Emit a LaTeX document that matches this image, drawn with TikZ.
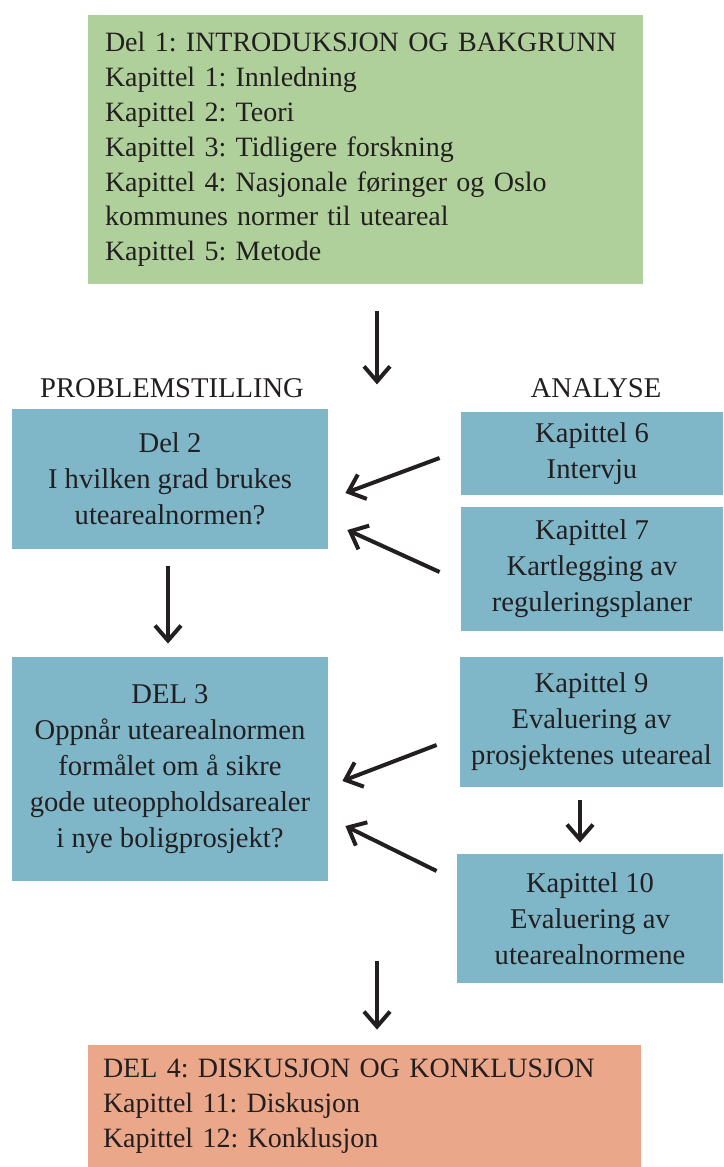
\documentclass[tikz,border=0pt]{standalone}
\usepackage{fontspec}
\setmainfont{Liberation Serif}
\usetikzlibrary{arrows.meta,calc}
\frenchspacing

\definecolor{introgreen}{HTML}{AFD09A}
\definecolor{partblue}{HTML}{7FB7C9}
\definecolor{endsalmon}{HTML}{EBA78A}
\definecolor{inktext}{HTML}{231F20}

\tikzset{
  partbox/.style={fill=partblue, text=inktext, align=center, inner sep=0pt,
    font=\fontsize{14.3}{18}\selectfont},
  listbox/.style={text=inktext, align=left, inner sep=0pt, inner xsep=8.5pt,
    font=\fontsize{14}{17.4}\selectfont},
  headtext/.style={text=inktext, font=\fontsize{14.3}{17.5}\selectfont},
  arr/.style={draw=inktext, line width=2pt, -{Straight Barb[length=7.5pt,width=13pt]}}
}

\begin{document}
\begin{tikzpicture}[x=0.5pt,y=-0.5pt]

\useasboundingbox (0,0) rectangle (723,1167);

% part 1
\node [listbox, fill=introgreen, minimum width=277.5pt, minimum height=134.5pt, text width=260.5pt]
  (intro) at (365.5,149.5) {Del 1: INTRODUKSJON OG BAKGRUNN\\
  Kapittel 1: Innledning\\
  Kapittel 2: Teori\\
  Kapittel 3: Tidligere forskning\\
  Kapittel 4: Nasjonale føringer og Oslo\\
  kommunes normer til uteareal\\
  Kapittel 5: Metode};

\node [headtext] (probl) at (172,388) {PROBLEMSTILLING};
\node [headtext] (anal) at (596,388) {ANALYSE};

% part 2 and 3
\node [partbox, minimum width=158pt, minimum height=70pt] (del2) at (170,479)
  {Del 2\\ I hvilken grad brukes\\ utearealnormen?};
\node [partbox, minimum width=158pt, minimum height=112pt] (del3) at (170,769)
  {DEL 3\\ Oppnår utearealnormen\\ formålet om å sikre\\ gode uteoppholdsarealer\\ i nye boligprosjekt?};

% analysis chapters
\node [partbox, minimum width=131pt, minimum height=41.5pt] (kap6) at (592,453.5)
  {Kapittel 6\\ Intervju};
\node [partbox, minimum width=131pt, minimum height=62pt] (kap7) at (592,569)
  {Kapittel 7\\ Kartlegging av\\ reguleringsplaner};
\node [partbox, minimum width=131.5pt, minimum height=65pt] (kap9) at (591.5,722)
  {Kapittel 9\\ Evaluering av\\ prosjektenes uteareal};
\node [partbox, minimum width=133pt, minimum height=64.5pt] (kap10) at (590,918.5)
  {Kapittel 10\\ Evaluering av\\ utearealnormene};

% part 4
\node [listbox, fill=endsalmon, minimum width=276.5pt, minimum height=61pt, text width=261.5pt,
  inner xsep=7.5pt] (disk) at (364.5,1106)
  {DEL 4: DISKUSJON OG KONKLUSJON\\
  Kapittel 11: Diskusjon\\
  Kapittel 12: Konklusjon};

% arrows
\draw [arr] ($(intro.south)+(11.5,27)$) -- ($(intro.south)+(11.5,100)$);
\draw [arr] ($(kap6.west)+(-21,4.5)$) -- ($(del2.east)+(17,14)$);
\draw [arr] ($(kap7.west)+(-21,3)$) -- ($(del2.east)+(19,51)$);
\draw [arr] ($(del2.south)+(-2,17)$) -- ($(del3.north)+(-2,-13)$);
\draw [arr] ($(kap9.west)+(-23,23)$) -- ($(del3.east)+(14,12)$);
\draw [arr] ($(kap10.west)+(-20,-47.5)$) -- ($(del3.east)+(17,57)$);
\draw [arr] ($(kap9.south)+(-11.5,13)$) -- ($(kap10.north)+(-10,-11)$);
\draw [arr] ($(disk.north)+(12.5,-84)$) -- ($(disk.north)+(12.5,-15)$);

\end{tikzpicture}
\end{document}
